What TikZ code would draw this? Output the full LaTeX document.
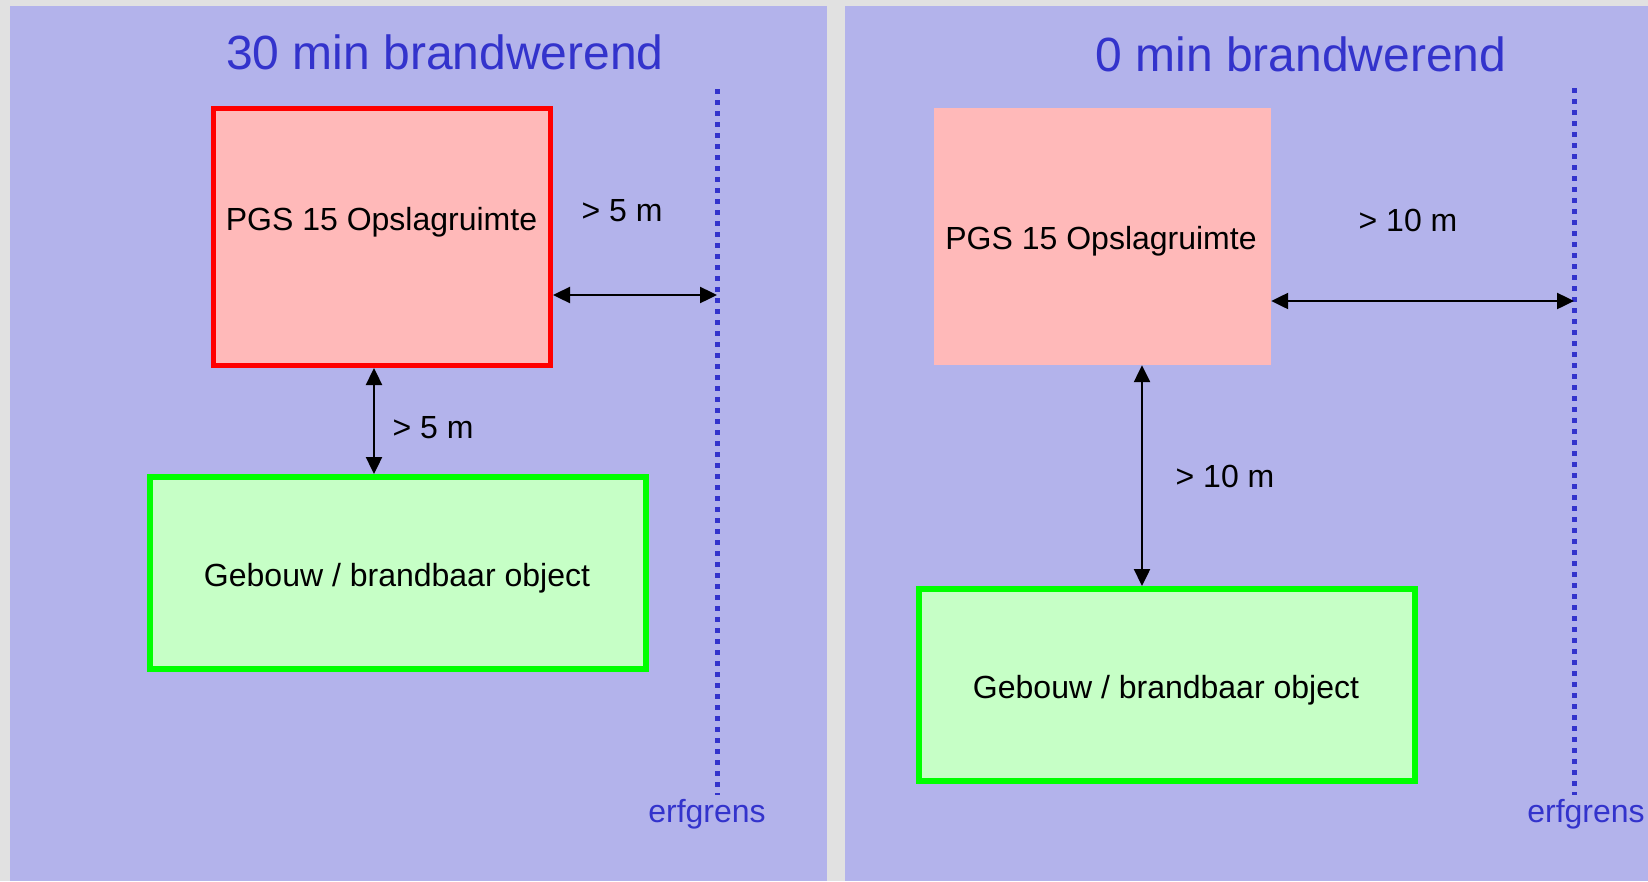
\documentclass[tikz,border=0pt]{standalone}
\usepackage{fontspec}
\setmainfont{Liberation Sans}
\usetikzlibrary{arrows.meta}
\definecolor{bggray}{HTML}{E1E1E1}
\definecolor{panelc}{HTML}{B3B3EB}
\definecolor{titleblue}{HTML}{3333CC}
\definecolor{pinkfill}{HTML}{FFB9B9}
\definecolor{redline}{HTML}{FF0000}
\definecolor{greenfill}{HTML}{C6FFC6}
\definecolor{greenline}{HTML}{00FF00}
\tikzset{
  panel/.style={fill=panelc, draw=none},
  titletext/.style={text=titleblue, font=\fontsize{48}{56}\selectfont, anchor=base, inner sep=0pt},
  bodytext/.style={text=black, font=\fontsize{32}{38}\selectfont, anchor=base, inner sep=0pt},
  boxtext/.style={text=black, font=\fontsize{32}{38}\selectfont, inner sep=0pt},
  erftext/.style={text=titleblue, font=\fontsize{32}{38}\selectfont, anchor=base, inner sep=0pt},
  pgsbox/.style={fill=pinkfill, inner sep=0pt},
  redborder/.style={draw=redline, line width=5.3pt},
  geboxstyle/.style={fill=greenfill, draw=greenline, line width=5.7pt, inner sep=0pt, minimum width=496.3pt, minimum height=192.3pt},
  grens/.style={draw=titleblue, line width=5pt, dash pattern=on 5pt off 6pt},
  dimarrow/.style={draw=black, line width=2.4pt, {Triangle[length=17pt,width=16pt]}-{Triangle[length=17pt,width=16pt]}}
}
\begin{document}
\begin{tikzpicture}[x=1pt,y=-1pt]
\useasboundingbox (0,0) rectangle (1648,881);
\fill[bggray] (0,0) rectangle (1648,881);
\path[panel] (10,6) rectangle (827,881);
\path[panel] (845,6) rectangle (1648,881);

% ---------- left panel ----------
\node[titletext] (titleA) at (445,69) {30 min brandwerend};
\node[pgsbox, redborder, minimum width=336.7pt, minimum height=256.7pt] (pgsA) at (382,237) {};
\node[bodytext] (pgsAtext) at (381.5,230) {PGS 15 Opslagruimte};
\node[geboxstyle] (gebA) at (398,573) {};
\node[boxtext] (gebAtext) at (397,578) {Gebouw / brandbaar object};
\coordinate (grensAtop) at (717,89);
\coordinate (grensAbot) at (717,795);
\draw[grens] (grensAtop) -- (grensAbot);
\node[erftext] (erfA) at (707,822) {erfgrens};
\coordinate (hA) at (717,295);
\draw[dimarrow] (pgsA.east |- hA) -- (hA);
\node[bodytext] (dimAh) at (622,221) {> 5 m};
\coordinate (vA) at (374,0);
\draw[dimarrow] (pgsA.south -| vA) -- (gebA.north -| vA);
\node[bodytext] (dimAv) at (433,438) {> 5 m};

% ---------- right panel ----------
\node[titletext] (titleB) at (1301,71.5) {0 min brandwerend};
\node[pgsbox, minimum width=337pt, minimum height=257pt] (pgsB) at (1102.5,236.5) {};
\node[bodytext] (pgsBtext) at (1101,249) {PGS 15 Opslagruimte};
\node[geboxstyle] (gebB) at (1167,685) {};
\node[boxtext] (gebBtext) at (1166,690) {Gebouw / brandbaar object};
\coordinate (grensBtop) at (1574,88);
\coordinate (grensBbot) at (1574,795);
\draw[grens] (grensBtop) -- (grensBbot);
\node[erftext] (erfB) at (1586,822) {erfgrens};
\coordinate (hB) at (1574,301);
\draw[dimarrow] (pgsB.east |- hB) -- (hB);
\node[bodytext] (dimBh) at (1408,231) {> 10 m};
\coordinate (vB) at (1142,0);
\draw[dimarrow] (pgsB.south -| vB) -- (gebB.north -| vB);
\node[bodytext] (dimBv) at (1225,487) {> 10 m};
\end{tikzpicture}
\end{document}
